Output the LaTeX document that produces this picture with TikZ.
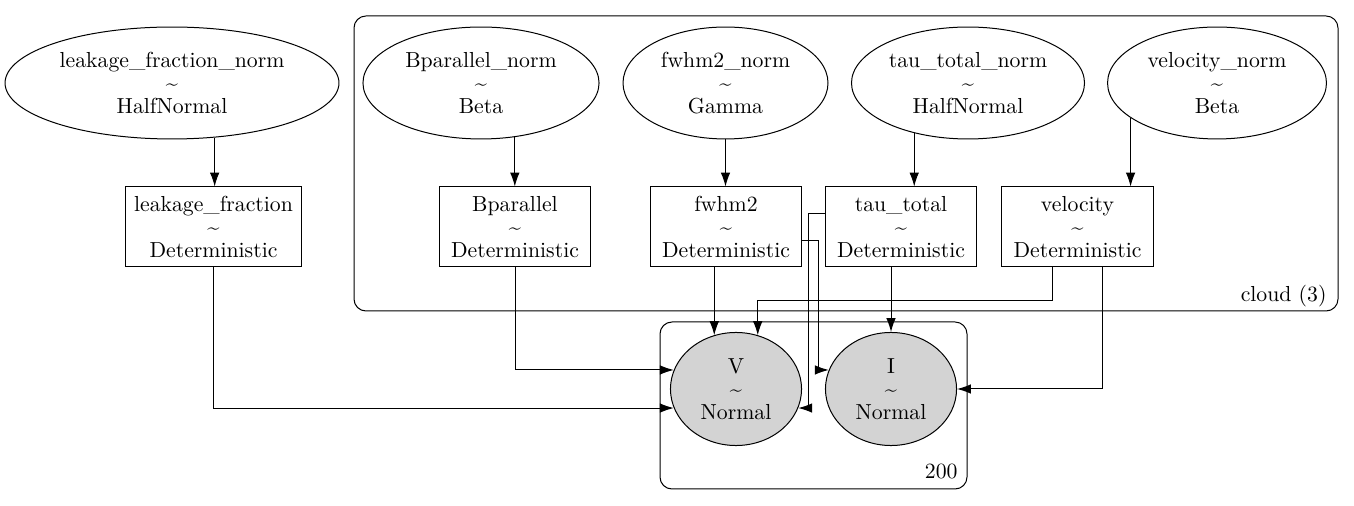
\documentclass[tikz,border=0pt]{standalone}
\usepackage{xcolor}
\usepackage{tikz}
\usetikzlibrary{arrows.meta,shapes.geometric}

\definecolor{obsgray}{RGB}{211,211,211}

\begin{document}
\begin{tikzpicture}[x=0.46pt,y=-0.46pt,line width=0.46pt,
    >={Latex[length=6.4pt,width=4.4pt]},
    font=\fontsize{10}{10.6}\selectfont,
    every node/.style={align=center,inner sep=0pt},
    dist/.style={draw,ellipse,minimum height=51.5pt},
    det/.style={draw,rectangle,minimum height=36.8pt,minimum width=69.8pt},
    obs/.style={draw,ellipse,fill=obsgray,minimum width=60.3pt,minimum height=52pt},
    plate/.style={draw,rounded corners=5.5pt}]
            \useasboundingbox (0,0) rectangle (1354,506);

            % plates
            \draw[plate] (354,16) rectangle (1338,311);
            \node[anchor=base east] (cloudlbl) at (1327,302) {cloud (3)};
            \draw[plate] (660,322) rectangle (967,489);
            \node[anchor=base east] (obslbl) at (958,478) {200};

            % priors
            \node[dist,minimum width=153.6pt] (lfn) at (172,83) {leakage\_fraction\_norm\\\textasciitilde\\HalfNormal};
            \node[dist,minimum width=108.6pt] (bpn) at (481,83) {Bparallel\_norm\\\textasciitilde\\Beta};
            \node[dist,minimum width=94.3pt] (fwn) at (725.5,83) {fwhm2\_norm\\\textasciitilde\\Gamma};
            \node[dist,minimum width=107.2pt] (ttn) at (968,83) {tau\_total\_norm\\\textasciitilde\\HalfNormal};
            \node[dist,minimum width=100.7pt] (vln) at (1217,83) {velocity\_norm\\\textasciitilde\\Beta};

            % deterministic
            \node[det,minimum width=81.4pt] (lf) at (213.5,227) {leakage\_fraction\\\textasciitilde\\Deterministic};
            \node[det] (bp) at (515,227) {Bparallel\\\textasciitilde\\Deterministic};
            \node[det] (fw) at (726,227) {fwhm2\\\textasciitilde\\Deterministic};
            \node[det] (tt) at (901,227) {tau\_total\\\textasciitilde\\Deterministic};
            \node[det] (vl) at (1077.5,227) {velocity\\\textasciitilde\\Deterministic};

            % observed
            \node[obs] (V) at (736,389) {V\\\textasciitilde\\Normal};
            \node[obs] (I) at (891,389) {I\\\textasciitilde\\Normal};

            \draw[->] (lfn.-52) -- (lfn.-52 |- lf.north);
            \draw[->] (bpn.-58) -- (bpn.-58 |- bp.north);
            \draw[->] (fwn.south) -- (fwn.south |- fw.north);
            \draw[->] (ttn.223) -- (ttn.223 |- tt.north);
            \draw[->] (vln.202) -- (vln.202 |- vl.north);

            \draw[->] (lf.south) |- (V.197);
            \draw[->] (bp.south) |- (V.163);
            \draw[->] (V.112 |- fw.south) -- (V.112);
            \draw[->] ([xshift=-11.5pt]vl.south) -- ++(0,33) -| (V.68);
            \draw[->] ([xshift=11.5pt]vl.south) |- (I.east);
            \draw[->] (I.north |- tt.south) -- (I.north);
            \draw[->] ([yshift=6.4pt]tt.west) -- ++(-16,0) |- (V.-17);
            \draw[->] ([yshift=-6pt]fw.east) -- ++(16,0) |- (I.163);
          \end{tikzpicture}
\end{document}
